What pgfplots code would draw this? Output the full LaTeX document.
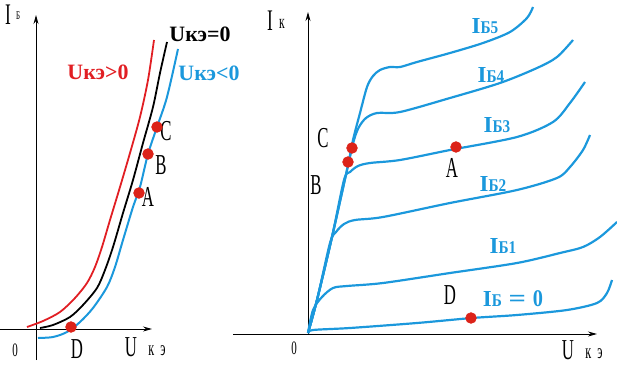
\documentclass[border=0pt]{standalone}
\usepackage{fontspec}
\setmainfont{Liberation Serif}
\usepackage{pgfplots}
\pgfplotsset{compat=1.18}
\usetikzlibrary{arrows.meta}
\definecolor{cb}{RGB}{27,152,220}
\definecolor{cr}{RGB}{225,30,35}
\definecolor{dotc}{RGB}{220,35,25}
\newcommand{\cond}[1]{\scalebox{0.58}[1]{#1}}
\newcommand{\IB}[1]{\bfseries{\fontsize{23}{23}\selectfont I}\scalebox{0.85}[1]{\fontsize{18}{18}\selectfont Б#1}}
\begin{document}
\begin{tikzpicture}
\useasboundingbox (0,0) rectangle (617bp,365bp);
\begin{axis}[width=617bp,height=365bp,scale only axis,at={(0,0)},anchor=south west,
  xmin=0,xmax=617,ymin=0,ymax=365,y dir=reverse,hide axis,clip=false,
  every node/.append style={inner sep=0pt}]
\addplot[draw=none] coordinates {(0,0)(617,365)};
% axes left
\addplot[black,line width=0.9pt,-{Stealth[length=9pt,width=5pt]}] coordinates {(36,360)(36,15)};
\addplot[black,line width=0.9pt,-{Stealth[length=9pt,width=5pt]}] coordinates {(0,329)(152,329)};
% axes right
\addplot[black,line width=0.9pt,-{Stealth[length=9pt,width=5pt]}] coordinates {(308,334)(308,12)};
\addplot[black,line width=0.9pt,-{Stealth[length=9pt,width=5pt]}] coordinates {(233,334)(597,334)};
% left curves
\addplot[cr,line width=1.8pt,smooth] coordinates {(27,327)(43,321)(60,312)(75,298)(87,283)(95,267)(102,247)(110,220)(120,187)(130,153)(140,117)(148,80)(154,40)};
\addplot[black,line width=1.8pt,smooth] coordinates {(40,328)(53,325)(70,317)(83,305)(97,288)(105,270)(113,247)(123,213)(133,180)(143,143)(153,107)(160,73)(167,42)};
\addplot[cb,line width=2pt,smooth] coordinates {(38,338)(53,337)(67,332)(80,322)(93,308)(107,287)(115,267)(123,240)(133,207)(140,187)(148,154)(157,127)(167,97)(178,49)};
\addplot[only marks,mark=*,mark size=5.5pt,dotc] coordinates {(71,327)(139,193)(148,154)(157,127)};
% right curves
\addplot[cb,line width=2.2pt,smooth] coordinates {(308,333)(313,330)(350,328)(417,323)(472,318)(517,315)(567,310)(597,303)(607,293)(612,280)};
\addplot[cb,line width=2.2pt,smooth] coordinates {(308,333)(313,310)(322,297)(333,288)(347,286)(383,283)(450,273)(517,263)(560,253)(583,247)(600,237)(617,222)};
\addplot[cb,line width=2.2pt,smooth] coordinates {(308,333)(317,300)(330,243)(336,232)(344,224)(355,220)(383,217)(450,203)(517,190)(557,178)(570,167)(583,150)(590,135)};
\addplot[cb,line width=2.2pt,smooth] coordinates {(308,333)(317,300)(332,237)(344,180)(350,172)(358,166)(370,163)(400,160)(450,150)(517,137)(553,122)(570,103)(585,82)};
\addplot[cb,line width=2.2pt,smooth] coordinates {(308,333)(317,300)(332,237)(347,170)(354,140)(359,127)(366,118)(377,113)(400,112)(450,98)(500,83)(537,68)(557,57)(573,40)};
\addplot[cb,line width=2.2pt,smooth] coordinates {(308,333)(317,300)(332,237)(347,170)(353,140)(360,113)(367,87)(373,76)(380,70)(390,67)(400,67)(417,62)(450,53)(483,43)(510,32)(527,18)(533,7)};
\addplot[only marks,mark=*,mark size=5.5pt,dotc] coordinates {(352,148)(348,162)(456,147)(471,318)};
% left labels
\node[font=\fontsize{30}{30}\selectfont] at (axis cs:8,15) {\cond{I}};
\node[font=\fontsize{12}{12}\selectfont] at (axis cs:18,16) {\cond{Б}};
\node[font=\fontsize{19}{19}\selectfont] at (axis cs:15,350) {\cond{0}};
\node[font=\fontsize{29}{29}\selectfont] at (axis cs:77,349) {\cond{D}};
\node[font=\fontsize{29}{29}\selectfont] at (axis cs:131,347) {\cond{U}};
\node[font=\fontsize{21}{21}\selectfont] at (axis cs:157,351) {\cond{к\ \ э}};
\node[font=\fontsize{29}{29}\selectfont] at (axis cs:148,197) {\cond{A}};
\node[font=\fontsize{29}{29}\selectfont] at (axis cs:161,165) {\cond{B}};
\node[font=\fontsize{29}{29}\selectfont] at (axis cs:166,131) {\cond{C}};
\node[font=\fontsize{22}{22}\selectfont\bfseries,text=cr] at (axis cs:98,72) {Uкэ>0};
\node[font=\fontsize{22}{22}\selectfont\bfseries,text=black] at (axis cs:200,34) {Uкэ=0};
\node[font=\fontsize{22}{22}\selectfont\bfseries,text=cb] at (axis cs:209,73) {Uкэ<0};
% right labels
\node[font=\fontsize{30}{30}\selectfont] at (axis cs:270,21) {\cond{I}};
\node[font=\fontsize{20}{20}\selectfont] at (axis cs:282,24) {\cond{к}};
\node[font=\fontsize{19}{19}\selectfont] at (axis cs:294,348) {\cond{0}};
\node[font=\fontsize{29}{29}\selectfont] at (axis cs:568,350) {\cond{U}};
\node[font=\fontsize{21}{21}\selectfont] at (axis cs:594,354) {\cond{к\ \ э}};
\node[font=\fontsize{29}{29}\selectfont] at (axis cs:323,138) {\cond{C}};
\node[font=\fontsize{29}{29}\selectfont] at (axis cs:316,185) {\cond{B}};
\node[font=\fontsize{29}{29}\selectfont] at (axis cs:452,168) {\cond{A}};
\node[font=\fontsize{29}{29}\selectfont] at (axis cs:450,295) {\cond{D}};
\node[text=cb] at (axis cs:485,26) {\IB{5}};
\node[text=cb] at (axis cs:491,75) {\IB{4}};
\node[text=cb] at (axis cs:497,125) {\IB{3}};
\node[text=cb] at (axis cs:493,184) {\IB{2}};
\node[text=cb] at (axis cs:503,246) {\IB{1}};
\node[text=cb] at (axis cs:513,299) {\IB{\hspace{8pt}{\fontsize{24}{24}\selectfont\scalebox{1.5}[1]{=}\hspace{8pt}0}}};
\end{axis}
\end{tikzpicture}
\end{document}
